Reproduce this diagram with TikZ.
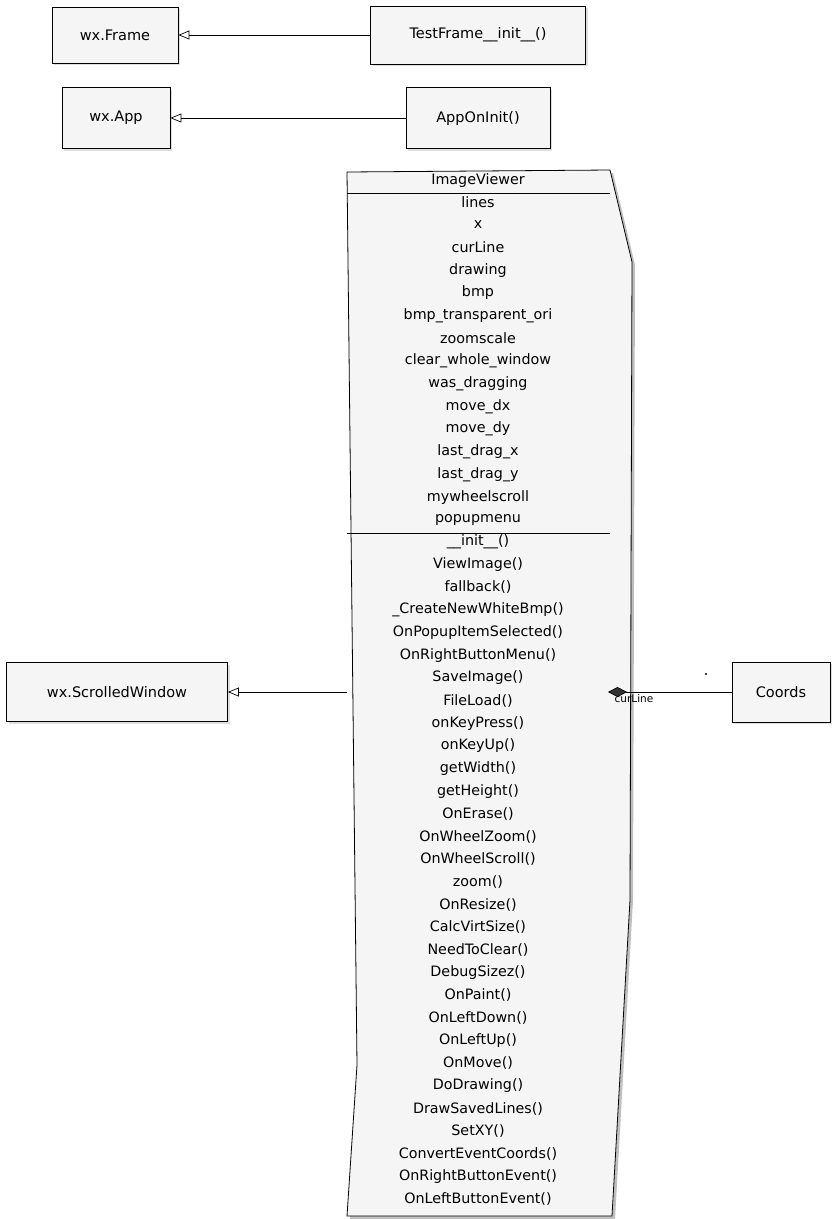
\documentclass[tikz,border=0pt]{standalone}
\usepackage{fontspec}
\setmainfont{DejaVu Sans}
\usetikzlibrary{arrows.meta,shadows,positioning}
\tikzset{
  umlbox/.style={draw=black, line width=0.8pt, fill=gray!8, rectangle, inner sep=0pt,
    drop shadow={opacity=0.25, shadow xshift=2pt, shadow yshift=-2pt},
    font=\fontsize{14.5}{16}\selectfont},
  member/.style={font=\fontsize{14.3}{16}\selectfont, inner sep=0pt, anchor=center},
  inh/.style={-{Triangle[open,length=11pt,width=9pt]}, line width=0.7pt},
  comp/.style={{Diamond[length=19pt,width=10pt,fill=gray!40!black]}-, line width=0.7pt},
  sep/.style={line width=0.8pt},
}
\begin{document}
\begin{tikzpicture}[x=1pt,y=-1pt]
\useasboundingbox (0,0) rectangle (837,1219);

% simple boxes
\node[umlbox, minimum width=126pt, minimum height=56pt] (frame) at (115,35) {wx.Frame};
\node[umlbox, minimum width=215pt, minimum height=58pt] (testframe) at (478,35) {TestFrame\_\_init\_\_()};
\node[umlbox, minimum width=108pt, minimum height=61pt] (app) at (116,118) {wx.App};
\node[umlbox, minimum width=144pt, minimum height=61pt] (apponinit) at (478,118) {AppOnInit()};
\node[umlbox, minimum width=221pt, minimum height=59pt] (sw) at (117,692) {wx.ScrolledWindow};
\node[umlbox, minimum width=98pt, minimum height=60pt] (coords) at (781,692) {Coords};

% ImageViewer class shape
\fill[black, opacity=0.25] (350,175) -- (613,173) -- (635,265) -- (633,900) -- (615,1219) -- (350,1219) -- (360,1068) -- cycle;
\draw[line width=0.8pt, fill=gray!8] (347,172) -- (610,170) -- (632,262) -- (630,900) -- (612,1216) -- (347,1216) -- (357,1065) -- cycle;
\node[inner sep=0pt, minimum width=285pt, minimum height=1046pt] (iv) at (489.5,693) {};
\draw[sep] (347,193) -- (610,193);
\draw[sep] (347,533) -- (610,533);

\node[member] (title) at (478,181) {ImageViewer};
\foreach \t [count=\i from 0] in {lines,x,curLine,drawing,bmp,bmp\_transparent\_ori,zoomscale,clear\_whole\_window,was\_dragging,move\_dx,move\_dy,last\_drag\_x,last\_drag\_y,mywheelscroll,popupmenu}
  \node[member] (attr\i) at (478,202+22.7*\i) {\t};
\foreach \t [count=\i from 0] in {\_\_init\_\_(),ViewImage(),fallback(),\_CreateNewWhiteBmp(),OnPopupItemSelected(),OnRightButtonMenu(),SaveImage(),FileLoad(),onKeyPress(),onKeyUp(),getWidth(),getHeight(),OnErase(),OnWheelZoom(),OnWheelScroll(),zoom(),OnResize(),CalcVirtSize(),NeedToClear(),DebugSizez(),OnPaint(),OnLeftDown(),OnLeftUp(),OnMove(),DoDrawing(),DrawSavedLines(),SetXY(),ConvertEventCoords(),OnRightButtonEvent(),OnLeftButtonEvent()}
  \node[member] (meth\i) at (478,542+22.66*\i) {\t};

% connectors
\draw[inh] (testframe.west) -- (frame.east);
\draw[inh] (apponinit.west) -- (app.east);
\coordinate (ivl) at (347,692);
\draw[inh] (ivl) -- (sw.east);
\coordinate (dia) at (608,692);
\draw[comp] (dia) -- (coords.west);
\node[font=\fontsize{10.5}{12}\selectfont, inner sep=0pt] (lbl) at (634,699) {curLine};
\node[circle, fill=black, inner sep=0pt, minimum size=2.2pt] (dot) at (706,674) {};
\end{tikzpicture}
\end{document}
